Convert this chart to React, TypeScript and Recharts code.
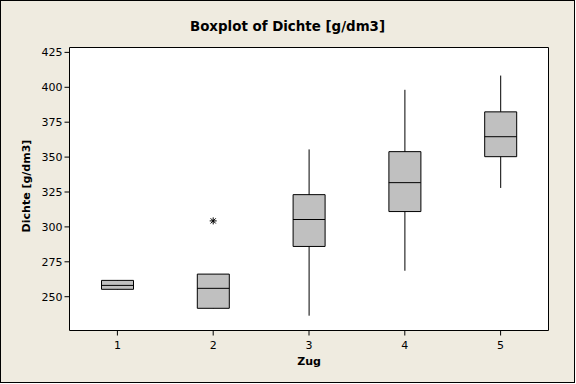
import React from 'react';
import { ComposedChart, Bar, Line, XAxis, YAxis, ReferenceArea, Label } from 'recharts';

const categories = ['1', '2', '3', '4', '5'];
const whiskerLow = [255.3, 241.7, 236.4, 268.6, 327.9];
const q1 = [255.3, 241.7, 286.0, 311.0, 350.3];
const medians = [258.1, 256.0, 305.3, 331.7, 364.6];
const q3 = [261.7, 266.2, 323.1, 353.9, 382.4];
const whiskerHigh = [261.7, 266.2, 355.5, 398.2, 408.4];
const outliers: (number | null)[] = [null, 304.3, null, null, null];
const yTicks = [250, 275, 300, 325, 350, 375, 400, 425];
const yDomain: [number, number] = [225.8, 428.5];

const data = categories.map((c, i) => ({
  zug: c,
  whisker: [whiskerLow[i], whiskerHigh[i]],
  box: [q1[i], q3[i]],
  median: medians[i],
  outlier: outliers[i],
}));

const BEIGE = '#EFEBE0';
const FONT = '"DejaVu Sans", Verdana, sans-serif';
const BOX_W = 32;

const WhiskerShape = (props: any) => {
  const { x, y, width, height } = props;
  const cx = x + width / 2;
  return <line x1={cx} x2={cx} y1={y} y2={y + height} stroke="#000" strokeWidth={1} />;
};

const MedianDot = (props: any) => {
  const { cx, cy, index } = props;
  if (cx == null || cy == null) return <g key={`m${index}`} />;
  return (
    <line key={`m${index}`} x1={cx - BOX_W / 2} x2={cx + BOX_W / 2} y1={cy} y2={cy} stroke="#000" strokeWidth={1} />
  );
};

const StarDot = (props: any) => {
  const { cx, cy, index, value } = props;
  if (value == null || cx == null || cy == null || isNaN(cy)) return <g key={`s${index}`} />;
  const r = 3.5;
  const d = 2.6;
  return (
    <g key={`s${index}`} stroke="#000" strokeWidth={1}>
      <line x1={cx} x2={cx} y1={cy - r} y2={cy + r} />
      <line x1={cx - d} x2={cx + d} y1={cy - d} y2={cy + d} />
      <line x1={cx - d} x2={cx + d} y1={cy + d} y2={cy - d} />
      <line x1={cx - r} x2={cx + r} y1={cy} y2={cy} />
    </g>
  );
};

export default function App() {
  return (
    <div style={{ position: 'absolute', left: 0, top: 0, width: 576, height: 384 }}>
      <div
        style={{
          position: 'absolute',
          left: 0,
          top: 0,
          width: 575,
          height: 383,
          background: BEIGE,
          border: '1px solid #000',
          boxSizing: 'border-box',
        }}
      />
      <div
        style={{
          position: 'absolute',
          left: 0,
          top: 19.5,
          width: 575,
          textAlign: 'center',
          fontFamily: FONT,
          fontWeight: 'bold',
          fontSize: 13.4,
          lineHeight: '13.4px',
          color: '#000',
        }}
      >
        Boxplot of Dichte [g/dm3]
      </div>
      <div style={{ position: 'absolute', left: 0, top: 0 }}>
        <ComposedChart
          width={576}
          height={384}
          data={data}
          margin={{ top: 47.5, right: 27.5, bottom: 23.5, left: 9.5 }}
        >
          <XAxis
            dataKey="zug"
            type="category"
            axisLine={false}
            tickLine={{ stroke: '#000' }}
            tickSize={5}
            tickMargin={5.5}
            height={30}
            interval={0}
            tick={{ fill: '#000', fontSize: 11, fontFamily: FONT }}
          >
            <Label
              content={(p: any) => {
                const vb = p.viewBox;
                return (
                  <text
                    x={vb.x + vb.width / 2}
                    y={365.3}
                    textAnchor="middle"
                    fontFamily={FONT}
                    fontWeight="bold"
                    fontSize={11}
                    fill="#000"
                  >
                    Zug
                  </text>
                );
              }}
            />
          </XAxis>
          <XAxis xAxisId="w" dataKey="zug" type="category" hide />
          <YAxis
            type="number"
            domain={yDomain}
            ticks={yTicks}
            allowDataOverflow
            interval={0}
            width={60}
            axisLine={false}
            tickLine={{ stroke: '#000' }}
            tickSize={5}
            tickMargin={2}
            tick={{ fill: '#000', fontSize: 11, fontFamily: FONT }}
          >
            <Label
              content={(p: any) => {
                const vb = p.viewBox;
                const cy = vb.y + vb.height / 2 - 3;
                return (
                  <text
                    x={29.5}
                    y={cy}
                    transform={`rotate(-90 29.5 ${cy})`}
                    textAnchor="middle"
                    fontFamily={FONT}
                    fontWeight="bold"
                    fontSize={11}
                    fill="#000"
                  >
                    Dichte [g/dm3]
                  </text>
                );
              }}
            />
          </YAxis>
          <ReferenceArea
            y1={yDomain[0]}
            y2={yDomain[1]}
            fill="#FFFFFF"
            fillOpacity={1}
            stroke="#000"
            strokeWidth={1}
            ifOverflow="visible"
          />
          <Bar xAxisId="w" dataKey="whisker" barSize={2} shape={WhiskerShape} isAnimationActive={false} />
          <Bar dataKey="box" barSize={BOX_W} fill="#C0C0C0" stroke="#000" strokeWidth={1} isAnimationActive={false} />
          <Line
            dataKey="median"
            stroke="none"
            dot={MedianDot}
            activeDot={false}
            isAnimationActive={false}
          />
          <Line
            dataKey="outlier"
            stroke="none"
            dot={StarDot}
            activeDot={false}
            connectNulls={false}
            isAnimationActive={false}
          />
        </ComposedChart>
      </div>
    </div>
  );
}
